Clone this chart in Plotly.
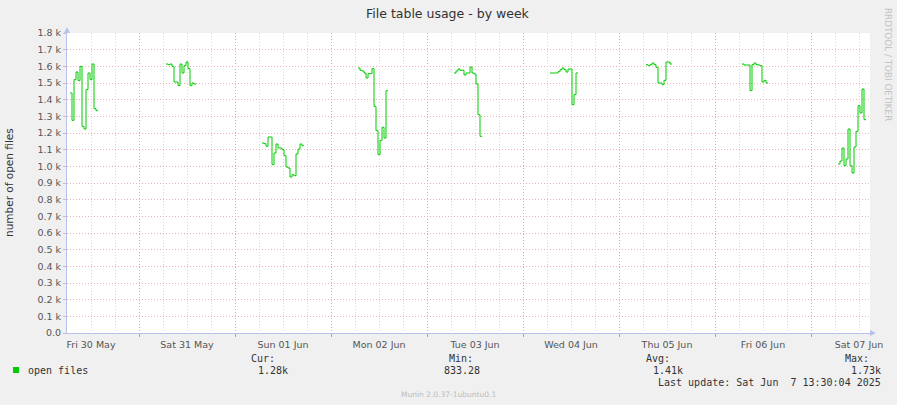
import plotly.graph_objects as go
from datetime import datetime, timedelta

# ---------------- data ----------------
seg_starts = ["2025-05-30 06:45", "2025-05-31 06:45", "2025-06-01 06:45",
              "2025-06-02 06:45", "2025-06-03 06:45", "2025-06-04 06:45",
              "2025-06-05 06:45", "2025-06-06 06:45", "2025-06-07 06:45"]
step_minutes = 30

fri_30 = [1440, 1276, 1520, 1566, 1514, 1600, 1240, 1224, 1460, 1560, 1520, 1614, 1346, 1334]
sat_31 = [1614, 1610, 1614, 1600, 1506, 1506, 1484, 1614, 1560, 1604, 1626, 1586, 1484, 1500, 1494]
sun_01 = [1140, 1136, 1120, 1176, 1176, 1010, 1080, 1134, 1110, 1110, 1100, 1064, 996, 990, 936,
          950, 944, 1074, 1104, 1134, 1124]
mon_02 = [1590, 1576, 1572, 1560, 1530, 1556, 1556, 1586, 1360, 1214, 1070, 1156, 1234, 1170, 1454]
tue_03 = [1560, 1572, 1584, 1576, 1576, 1548, 1560, 1560, 1596, 1560, 1554, 1494, 1310, 1180]
wed_04 = [1560, 1560, 1560, 1560, 1568, 1580, 1590, 1580, 1566, 1584, 1584, 1370, 1430, 1560]
thu_05 = [1610, 1604, 1610, 1620, 1610, 1594, 1500, 1500, 1490, 1516, 1626, 1626, 1614]
fri_06 = [1614, 1608, 1608, 1608, 1454, 1610, 1620, 1610, 1608, 1604, 1506, 1516, 1500]
sat_07 = [1014, 1032, 1110, 1004, 1044, 1224, 1004, 960, 1116, 1210, 1364, 1320, 1464, 1280]
segments = [fri_30, sat_31, sun_01, mon_02, tue_03, wed_04, thu_05, fri_06, sat_07]

y_tick_vals = [i * 100 for i in range(19)]
y_tick_text = ["0.0"] + ["%.1f k" % (v / 1000) for v in y_tick_vals[1:]]

x_start = "2025-05-30 06:00"
x_end = "2025-06-07 14:45"

legend_name = "open files"
stat_labels = ["Cur:", "Min:", "Avg:", "Max:"]
stat_values = ["1.28k", "833.28", "1.41k", "1.73k"]
last_update = "Last update: Sat Jun  7 13:30:04 2025"
title = "File table usage - by week"
y_title = "number of open files"
side_text = "RRDTOOL / TOBI OETIKER"
footer = "Munin 2.0.37-1ubuntu0.1"

# ---------------- build ----------------
xs, ys = [], []
for start, vals in zip(seg_starts, segments):
    t0 = datetime.strptime(start, "%Y-%m-%d %H:%M")
    for i, v in enumerate(vals + [vals[-1]]):
        xs.append(t0 + timedelta(minutes=step_minutes * i))
        ys.append(v)
    xs.append(t0 + timedelta(minutes=step_minutes * (len(vals) + 1)))
    ys.append(None)

GREEN = "#00CC00"
W, H = 897, 405
L, R, T, B = 67, 27, 33, 72

fig = go.Figure()
fig.add_trace(go.Scatter(x=xs, y=ys, mode="lines", line=dict(color=GREEN, width=1, shape="hv"),
                         connectgaps=False, showlegend=False, hoverinfo="skip"))

def px(x):
    return (x - L) / (W - L - R)

def py(y):
    return (H - B - y) / (H - T - B)

font = "DejaVu Sans"
mono = "DejaVu Sans Mono"
ann = []
ann.append(dict(text=title, x=448, y=13, font=dict(family=font, size=12.5, color="#333")))
ann.append(dict(text=y_title, x=9, y=183, textangle=-90, font=dict(family=font, size=10.5, color="#333")))
ann.append(dict(text=side_text, x=888, y=64, textangle=90, font=dict(family=font, size=8.8, color="#c4c4c4")))
ann.append(dict(text=footer, x=448, y=394, font=dict(family=font, size=7.5, color="#bbbbbb")))
ann.append(dict(text=legend_name, x=26, y=370, xanchor="left", font=dict(family=mono, size=10, color="#333")))
label_right = [277, 475, 672, 871]
value_right = [290, 482, 685, 883]
for lab, val, lr, vr in zip(stat_labels, stat_values, label_right, value_right):
    ann.append(dict(text=lab, x=lr, y=358, xanchor="right", font=dict(family=mono, size=10, color="#333")))
    ann.append(dict(text=val, x=vr, y=370, xanchor="right", font=dict(family=mono, size=10, color="#333")))
ann.append(dict(text=last_update.replace(" ", "\u00a0"), x=883, y=382, xanchor="right",
                font=dict(family=mono, size=10, color="#333")))

annotations = []
for a in ann:
    d = dict(a)
    d["x"] = px(a["x"])
    d["y"] = py(a["y"])
    d.update(xref="paper", yref="paper", showarrow=False)
    d.setdefault("xanchor", "center")
    d.setdefault("yanchor", "middle")
    annotations.append(d)

shapes = [
    # legend swatch
    dict(type="rect", xref="paper", yref="paper", x0=px(13), x1=px(19), y0=py(373), y1=py(367),
         fillcolor=GREEN, line=dict(width=0)),
    # axis arrows
    dict(type="path", xref="paper", yref="paper",
         path="M %f %f L %f %f L %f %f Z" % (px(64), py(33), px(70), py(33), px(67), py(27)),
         fillcolor="#B8C0EC", line=dict(width=0)),
    dict(type="path", xref="paper", yref="paper",
         path="M %f %f L %f %f L %f %f Z" % (px(870), py(330), px(870), py(336), px(876), py(333)),
         fillcolor="#B8C0EC", line=dict(width=0)),
]

fig.update_layout(
    width=W, height=H,
    margin=dict(l=L, r=R, t=T, b=B),
    paper_bgcolor="#F0F0F0", plot_bgcolor="#FFFFFF",
    annotations=annotations, shapes=shapes,
    xaxis=dict(
        type="date", range=[x_start, x_end],
        tick0="2025-05-30", dtick=86400000, ticklabelmode="period", tickformat="%a %d %b",
        showgrid=True, gridcolor="#E0A8A8", griddash="1px,2px", gridwidth=1,
        ticks="outside", ticklen=3, tickcolor="#E09090",
        tickfont=dict(family=font, size=9.5, color="#555"),
        minor=dict(dtick=6 * 3600000, tick0="2025-05-30", showgrid=True,
                   gridcolor="#DADADA", griddash="1px,2px", ticks=""),
        showline=True, linecolor="#B8C0EC", linewidth=1,
        zeroline=False, fixedrange=True,
    ),
    yaxis=dict(
        range=[0, 1800], tickvals=y_tick_vals, ticktext=y_tick_text,
        showgrid=True, gridcolor="#E8B4B4", griddash="1px,2px", gridwidth=1,
        ticks="outside", ticklen=3, tickcolor="#E8B0B0",
        tickfont=dict(family=font, size=9.5, color="#555"),
        showline=True, linecolor="#B8C0EC", linewidth=1,
        zeroline=False, fixedrange=True,
    ),
)

fig.write_html("out.html", config={"displayModeBar": False},
               post_script="document.body.style.margin='0px';document.body.style.background='#F0F0F0';")
